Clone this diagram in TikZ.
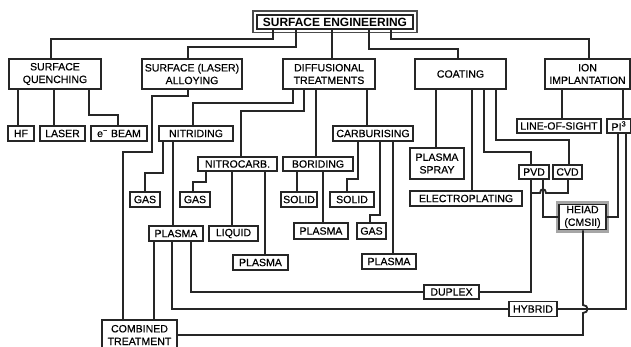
\documentclass[tikz,border=0pt]{standalone}
\usepackage{fontspec}
\setmainfont{Liberation Sans}
\newfontfamily\boxfont{Liberation Sans}[FakeBold=0.4]
\usepackage{tikz}
\usetikzlibrary{positioning}
\tikzset{
  box/.style={rectangle, draw=black!85, fill=white, line width=1.2pt,
              inner sep=1pt, minimum height=0.375cm, align=center},
  tbox/.style={box, minimum height=0.75cm},
  topbox/.style={box, preaction={draw=black!70, line width=6.4pt},
                 preaction={draw=white, line width=4.2pt},
                 font=\fontsize{8.5}{10}\selectfont\bfseries},
  hbox/.style={box, preaction={draw=black!35, line width=4.6pt}},
  conn/.style={draw=black!85, line width=1.3pt},
}

\begin{document}
\begin{tikzpicture}[x=0.025cm, y=-0.025cm,
                    every node/.style={font=\boxfont\fontsize{7.5}{9}\selectfont}]
  \useasboundingbox (0,0) rectangle (631,347);

  % top and first level
  \node[topbox, minimum width=3.9cm, minimum height=0.35cm] (title) at (335,22)
        {SURFACE ENGINEERING};
  \node[tbox, minimum width=2.3cm] (quench) at (55,74) {SURFACE\\QUENCHING};
  \node[tbox, minimum width=2.5cm] (alloy) at (192,74) {SURFACE (LASER)\\ALLOYING};
  \node[tbox, minimum width=2.3cm] (diff) at (329,74) {DIFFUSIONAL\\TREATMENTS};
  \node[tbox, minimum width=2.275cm] (coat) at (460.5,74) {COATING};
  \node[tbox, minimum width=2.125cm] (ion) at (587.5,74) {ION\\IMPLANTATION};

  % second level
  \node[box, minimum width=0.65cm] (hf) at (21,133.5) {HF};
  \node[box, minimum width=1.125cm] (laser) at (62.5,133.5) {LASER};
  \node[box, minimum width=1.4cm] (ebeam) at (119,133.5) {e\textsuperscript{−}~BEAM};
  \node[box, minimum width=1.85cm] (nitriding) at (196,133.5) {NITRIDING};
  \node[box, minimum width=2cm] (carburising) at (373,133.5) {CARBURISING};
  \node[box, minimum width=1.35cm, minimum height=0.775cm] (pspray) at (437,163.5)
        {PLASMA\\SPRAY};
  \node[box, minimum width=2.1cm, minimum height=0.35cm] (los) at (559,126)
        {LINE-OF-SIGHT};
  \node[box, minimum width=0.6cm, minimum height=0.35cm] (pi) at (619,126)
        {PI\textsuperscript{3}};

  % third level
  \node[box, minimum width=1.975cm, minimum height=0.35cm] (nitrocarb) at (237.5,164)
        {NITROCARB.};
  \node[box, minimum width=1.75cm, minimum height=0.35cm] (boriding) at (318,164)
        {BORIDING};
  \node[box, minimum width=0.75cm, minimum height=0.35cm] (pvd) at (534,172) {PVD};
  \node[box, minimum width=0.725cm, minimum height=0.35cm] (cvd) at (567.5,172) {CVD};

  \node[box, minimum width=0.75cm] (gasN) at (145,199.5) {GAS};
  \node[box, minimum width=0.75cm] (gasNC) at (195,199.5) {GAS};
  \node[box, minimum width=0.9cm] (solidB) at (299,199.5) {SOLID};
  \node[box, minimum width=1.1cm] (solidC) at (352,199.5) {SOLID};
  \node[box, minimum width=2.8cm] (electro) at (466,198.5) {ELECTROPLATING};
  \node[hbox, minimum width=1.175cm, minimum height=0.575cm] (heiad) at (582.5,217)
        {HEIAD\\(CMSII)};

  % lower boxes
  \node[box, minimum width=1.35cm] (plasmaN) at (176,233.5) {PLASMA};
  \node[box, minimum width=1.225cm] (liquid) at (233.5,233.5) {LIQUID};
  \node[box, minimum width=1.35cm, minimum height=0.4cm] (plasmaB) at (321,231) {PLASMA};
  \node[box, minimum width=0.725cm, minimum height=0.4cm] (gasC) at (371.5,231) {GAS};
  \node[box, minimum width=1.375cm] (plasmaNC) at (260.5,262.5) {PLASMA};
  \node[box, minimum width=1.35cm] (plasmaC) at (389,261.5) {PLASMA};
  \node[box, minimum width=1.375cm, minimum height=0.35cm] (duplex) at (451.5,292) {DUPLEX};
  \node[box, minimum width=1.2cm] (hybrid) at (533,309) {HYBRID};
  \node[tbox, minimum width=1.875cm] (combined) at (139.5,335) {COMBINED\\TREATMENT};

  % connectors from the top
  \draw[conn] (title.south -| 273,0) |- (51,39) -- (quench.north -| 51,0);
  \draw[conn] (title.south -| 296,0) |- (188,47) -- (alloy.north -| 188,0);
  \draw[conn] (title.south -| 332,0) -- (diff.north -| 332,0);
  \draw[conn] (title.south -| 369,0) |- (458,49) -- (coat.north -| 458,0);
  \draw[conn] (title.south -| 391,0) |- (589,39) -- (ion.north -| 589,0);

  \draw[conn] (quench.south -| 18,0) -- (hf.north -| 18,0);
  \draw[conn] (quench.south -| 54,0) -- (laser.north -| 54,0);
  \draw[conn] (quench.south -| 89,0) |- (118,115) -- (ebeam.north -| 118,0);
  \draw[conn] (alloy.south -| 188,0) |- (152,96) |- (123,152)
        -- (combined.north -| 123,0);

  \draw[conn] (diff.south -| 293,0) |- (193,103) -- (nitriding.north -| 193,0);
  \draw[conn] (diff.south -| 304,0) |- (241,111) -- (nitrocarb.north -| 241,0);
  \draw[conn] (diff.south -| 316,0) -- (boriding.north -| 316,0);
  \draw[conn] (diff.south -| 367,0) -- (carburising.north -| 367,0);

  \draw[conn] (nitriding.south -| 163,0) |- (145,173) -- (gasN.north -| 145,0);
  \draw[conn] (nitriding.south -| 173,0) -- (plasmaN.north -| 173,0);
  \draw[conn] (nitrocarb.south -| 206,0) |- (193,182) -- (gasNC.north -| 193,0);
  \draw[conn] (nitrocarb.south -| 232,0) -- (liquid.north -| 232,0);
  \draw[conn] (nitrocarb.south -| 265,0) -- (plasmaNC.north -| 265,0);
  \draw[conn] (boriding.south -| 297,0) -- (solidB.north -| 297,0);
  \draw[conn] (boriding.south -| 323,0) -- (plasmaB.north -| 323,0);
  \draw[conn] (carburising.south -| 358,0) |- (347,179) -- (solidC.north -| 347,0);
  \draw[conn] (carburising.south -| 380,0) |- (370,215) -- (gasC.north -| 370,0);
  \draw[conn] (carburising.south -| 393,0) -- (plasmaC.north -| 393,0);

  \draw[conn] (coat.south -| 436,0) -- (pspray.north -| 436,0);
  \draw[conn] (coat.south -| 472,0) -- (electro.north -| 472,0);
  \draw[conn] (coat.south -| 484,0) |- (531,152) -- (pvd.north -| 531,0);
  \draw[conn] (coat.south -| 496,0) |- (569,140) -- (cvd.north -| 569,0);
  \draw[conn] (ion.south -| 562,0) -- (los.north -| 562,0);
  \draw[conn] (ion.south -| 623,0) -- (pi.north -| 623,0);

  % combined routes
  \draw[conn] (pvd.south -| 531,0) |- (duplex.east);
  \draw[conn] (cvd.south -| 568,0) |- (546,193)
        .. controls (546,188) and (540,188) .. (540,193) -- (531,193);
  \draw[conn] (pvd.south -| 543,0) |- (heiad.west);
  \draw[conn] (pi.south -| 618,0) |- (heiad.east);
  \draw[conn] (pi.south -| 626,0) |- (hybrid.east);
  \draw[conn] (heiad.south -| 583,0) -- (583,305)
        .. controls (589,305) and (589,313) .. (583,313)
        |- (combined.east);
  \draw[conn] (plasmaN.south -| 154,0) -- (combined.north -| 154,0);
  \draw[conn] (plasmaN.south -| 172,0) |- (hybrid.west);
  \draw[conn] (plasmaN.south -| 191,0) |- (duplex.west);
\end{tikzpicture}
\end{document}
